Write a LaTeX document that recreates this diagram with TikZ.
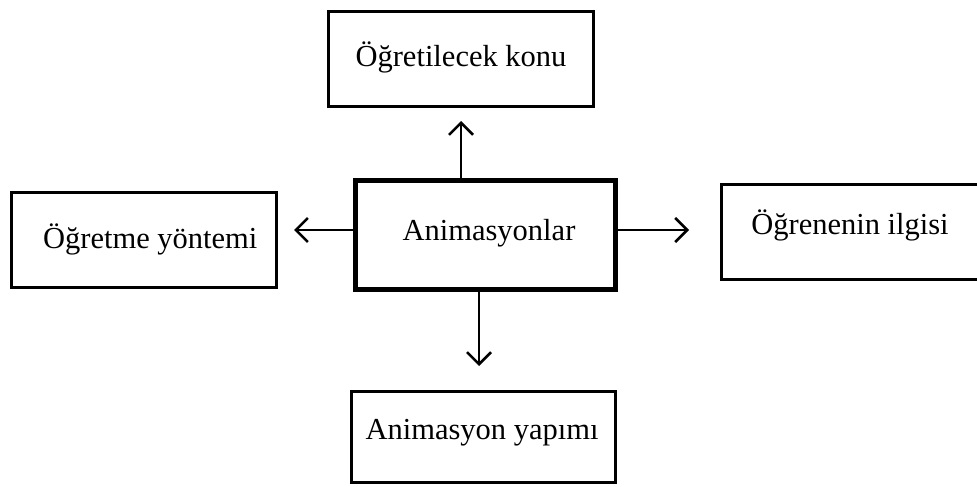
\documentclass[tikz,border=0pt]{standalone}
\usepackage{fontspec}
\setmainfont{Liberation Serif}
\usetikzlibrary{arrows.meta}
\newcommand{\shifttext}[3]{\hspace*{#1}\raisebox{#2}[\height][\depth]{#3}\hspace*{-#1}}
\begin{document}
\begin{tikzpicture}[x=1pt,y=-1pt,
  box/.style={draw=black, line width=3pt, minimum width=265pt, minimum height=95pt, inner sep=0pt, font=\fontsize{30.5}{34}\selectfont},
  mainbox/.style={draw=black, line width=5pt, minimum width=260pt, minimum height=109.5pt, inner sep=0pt, font=\fontsize{30.5}{34}\selectfont},
  arr/.style={line width=2.5pt, -{Straight Barb[length=12pt,width=24pt,line width=2.5pt]}}]
\clip (0,0) rectangle (977,487);
\fill[white] (0,0) rectangle (977,487);
\node[mainbox] (c) at (485.5,234.75) {\shifttext{3.5pt}{2pt}{Animasyonlar}};
\node[box] (t) at (461,59) {\shifttext{0pt}{2pt}{Öğretilecek konu}};
\node[box] (l) at (144.25,239.5) {\shifttext{6pt}{0pt}{Öğretme yöntemi}};
\node[box] (r) at (854,231.5) {\shifttext{-4pt}{6pt}{Öğrenenin ilgisi}};
\node[box, minimum width=264pt, minimum height=90.5pt] (b) at (483.5,436.75) {\shifttext{-1.5pt}{4pt}{Animasyon yapımı}};
\coordinate (tu) at (461,121);
\coordinate (tl) at (294,230);
\coordinate (tr) at (689,230);
\coordinate (td) at (479,366);
\draw[arr] (c.north -| tu) -- (tu);
\draw[arr] (c.west |- tl) -- (tl);
\draw[arr] (c.east |- tr) -- (tr);
\draw[arr] (c.south -| td) -- (td);
\end{tikzpicture}
\end{document}
